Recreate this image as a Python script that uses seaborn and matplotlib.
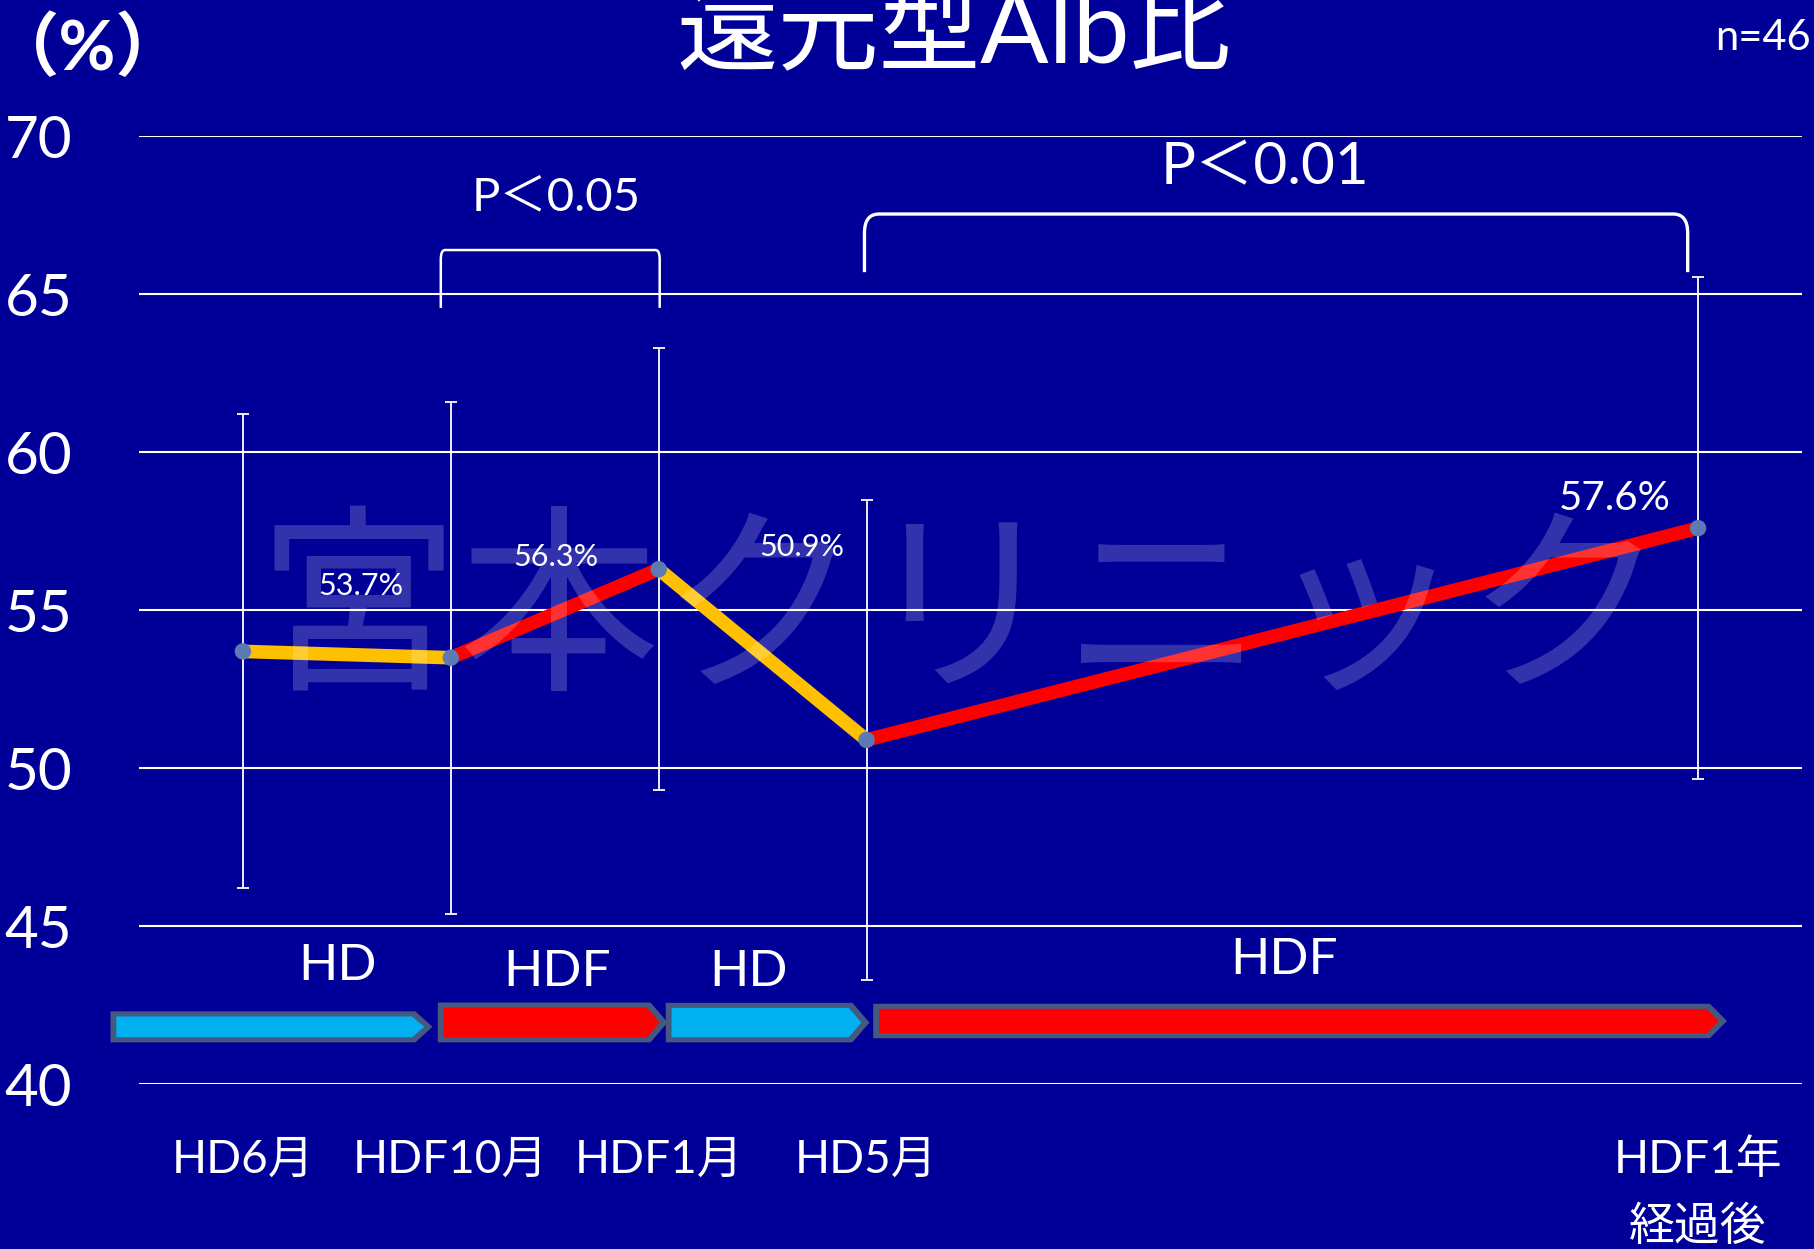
import matplotlib
matplotlib.use("Agg")
import numpy as np
import pandas as pd
import matplotlib.pyplot as plt
import seaborn as sns
from matplotlib.path import Path
from matplotlib.patches import PathPatch, Polygon

# ---- data -------------------------------------------------------------
stages = ["HD6月", "HDF10月", "HDF1月", "HD5月", "HDF1年\n経過後"]
stage_pos = [0, 1, 2, 3, 7]
mean_ratio = [53.7, 53.5, 56.3, 50.9, 57.6]
sd_ratio = [7.5, 8.1, 7.0, 7.6, 7.95]
labelled = [True, False, True, True, True]
segment_mode = ["HD", "HDF", "HD", "HDF"]      # therapy between consecutive visits
y_ticks = [40, 45, 50, 55, 60, 65, 70]

# ---- style ------------------------------------------------------------
BG = "#000099"
LINE_COL = {"HD": "#FFC000", "HDF": "#FF0000"}
BAR_COL = {"HD": "#00B0F0", "HDF": "#FF0000"}
BORDER = "#45587F"
MARKER = "#5B7BB2"

sns.set_theme(style="white", rc={"axes.facecolor": BG, "figure.facecolor": BG})
plt.rcParams["font.family"] = ["Lato", "Noto Sans CJK JP"]

fig = plt.figure(figsize=(18.14, 12.49), dpi=100)
ax = fig.add_axes([0.0766, 0.1318, 0.9168, 0.7591])
ax.set_facecolor(BG)

# connecting segments, coloured by therapy
rows = []
for i, mode in enumerate(segment_mode):
    for j in (i, i + 1):
        rows.append({"seg": i, "mode": mode, "x": stage_pos[j], "y": mean_ratio[j]})
seg_df = pd.DataFrame(rows)
sns.lineplot(data=seg_df, x="x", y="y", hue="seg",
             palette=[LINE_COL[m] for m in segment_mode],
             linewidth=9.8, legend=False, sort=False, estimator=None,
             solid_capstyle="butt", ax=ax, zorder=3)

# +/- SD whiskers
ax.errorbar(stage_pos, mean_ratio, yerr=sd_ratio, fmt="none", ecolor="white",
            elinewidth=1.3, capsize=4.5, capthick=1.3, zorder=2)

# visit markers
sns.scatterplot(x=stage_pos, y=mean_ratio, s=140, color=MARKER,
                edgecolor="none", ax=ax, zorder=4)

# value labels
label_offset = {0: (0.567, 2.07, 22), 2: (-0.495, 0.40, 22),
                3: (-0.31, 6.10, 22), 4: (-0.40, 0.95, 29)}
for i, (x, v) in enumerate(zip(stage_pos, mean_ratio)):
    if not labelled[i]:
        continue
    dx, dy, fs = label_offset[i]
    ax.text(x + dx, v + dy, f"{v:.1f}%", color="white", fontsize=fs,
            ha="center", va="center", zorder=5)

# significance brackets
def bracket(x0, x1, ybot, ytop, rx, ry, lw):
    verts = [(x0, ybot), (x0, ytop - ry), (x0, ytop), (x0 + rx, ytop),
             (x1 - rx, ytop), (x1, ytop), (x1, ytop - ry), (x1, ybot)]
    codes = [Path.MOVETO, Path.LINETO, Path.CURVE3, Path.CURVE3,
             Path.LINETO, Path.CURVE3, Path.CURVE3, Path.LINETO]
    ax.add_patch(PathPatch(Path(verts, codes), fill=False, edgecolor="white",
                           lw=lw, zorder=5, capstyle="butt"))

bracket(0.952, 2.005, 64.57, 66.40, 0.02, 0.30, 1.8)
bracket(2.99, 6.95, 65.70, 67.54, 0.07, 0.60, 2.4)
ax.text(1.505, 68.05, "P＜0.05", color="white", fontsize=34, ha="center", va="center")
ax.text(4.915, 69.0, "P＜0.01", color="white", fontsize=42, ha="center", va="center")

# therapy period arrows
def period_arrow(x0, x1, ytop, ybot, mode):
    tip = 0.082
    ymid = (ytop + ybot) / 2
    outer = [(x0, ybot), (x0, ytop), (x1 - tip, ytop), (x1, ymid), (x1 - tip, ybot)]
    ix, iy = 0.028, 0.16
    inner = [(x0 + ix, ybot + iy), (x0 + ix, ytop - iy), (x1 - tip - ix * 0.6, ytop - iy),
             (x1 - ix * 1.4, ymid), (x1 - tip - ix * 0.6, ybot + iy)]
    ax.add_patch(Polygon(outer, closed=True, facecolor=BORDER, edgecolor="none",
                         zorder=3, clip_on=False))
    ax.add_patch(Polygon(inner, closed=True, facecolor=BAR_COL[mode], edgecolor="none",
                         zorder=3, clip_on=False))

period_arrow(-0.637, 0.912, 42.31, 41.33, "HD")
period_arrow(0.9375, 2.043, 42.59, 41.33, "HDF")
period_arrow(2.034, 3.014, 42.58, 41.33, "HD")
period_arrow(3.032, 7.139, 42.55, 41.46, "HDF")

for x, y, t in [(0.457, 43.76, "HD"), (1.51, 43.57, "HDF"),
                (2.43, 43.57, "HD"), (5.01, 43.95, "HDF")]:
    ax.text(x, y, t, color="white", fontsize=37, ha="center", va="center")

# watermark
ax.text(3.46, 54.75, "宮本クリニック", fontsize=145, color="white", alpha=0.2,
        ha="center", va="center", family="Noto Sans CJK JP", zorder=6)

# axes
ax.set_xlim(-0.5, 7.5)
ax.set_ylim(40, 70)
ax.set_yticks(y_ticks)
ax.set_yticklabels([str(t) for t in y_ticks])
ax.set_xticks(stage_pos)
ax.set_xticklabels(stages, linespacing=1.7)
ax.tick_params(axis="y", length=0, pad=48, labelsize=42, labelcolor="white")
ax.tick_params(axis="x", length=0, pad=39, labelsize=33, labelcolor="white")
ax.grid(axis="y", color="white", lw=1.5, zorder=0)
ax.grid(axis="x", visible=False)
ax.set_axisbelow(True)
ax.set_xlabel("")
ax.set_ylabel("")
for s in ax.spines.values():
    s.set_visible(False)

fig.text(954 / 1814, 1 - 63 / 1249, "還元型Alb比", color="white", fontsize=73,
         ha="center", va="baseline")
fig.text(88 / 1814, 1 - 70 / 1249, "（%）", color="white", fontsize=50,
         fontweight="bold", ha="center", va="baseline")
fig.text(1811 / 1814, 1 - 50 / 1249, "n=46", color="white", fontsize=30,
         ha="right", va="baseline")

fig.savefig("out.png", dpi=100, facecolor=BG)
